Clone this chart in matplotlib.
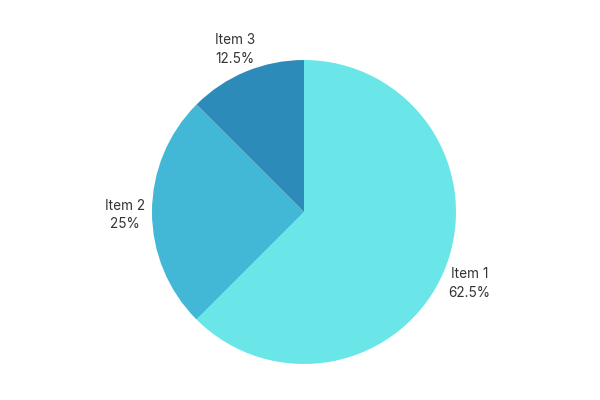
import matplotlib
matplotlib.use("Agg")
import matplotlib.pyplot as plt

labels = ["Item 1", "Item 2", "Item 3"]
values = [62.5, 25, 12.5]
colors = ["#6ae6e9", "#42b8d6", "#2d8bba"]

plt.rcParams["font.family"] = ["Inter", "DejaVu Sans"]

fig = plt.figure(figsize=(6, 4), dpi=100)
ax = fig.add_axes([0, 0, 1, 1])

radius_px = 152
wedges, texts = ax.pie(
    values,
    labels=[f"{l}\n{v:g}%" for l, v in zip(labels, values)],
    colors=colors,
    startangle=90,
    counterclock=False,
    labeldistance=1.18,
    wedgeprops=dict(linewidth=0),
    textprops=dict(fontsize=9.8, color="#333333", linespacing=1.4),
)
for t in texts:
    t.set_ha("center")
    t.set_va("center")
    x, y = t.get_position()
    t.set_position((x, y - 0.02))

ax.set_xlim(-304 / radius_px, 296 / radius_px)
ax.set_ylim(-188 / radius_px, 212 / radius_px)
ax.set_aspect("equal")
ax.axis("off")

fig.savefig("out.png", dpi=100, facecolor="white")
